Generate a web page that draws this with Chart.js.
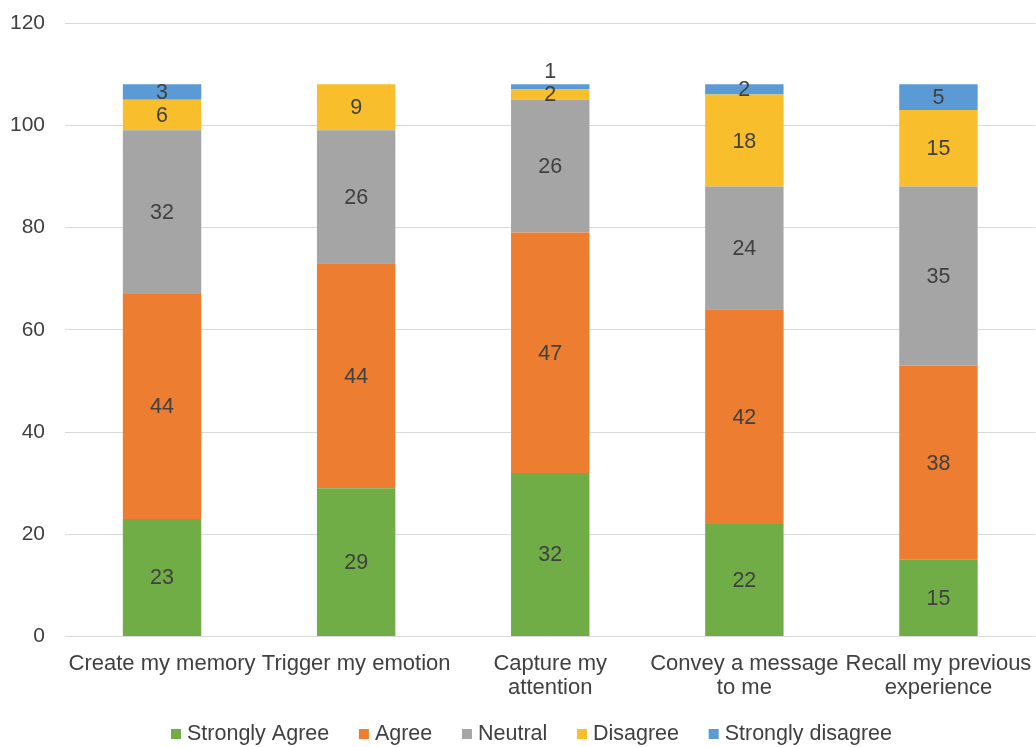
<!DOCTYPE html>
<html>
<head>
<meta charset="utf-8">
<script src="https://cdn.jsdelivr.net/npm/chart.js@4/dist/chart.umd.min.js"></script>
<style>
  html, body { margin: 0; padding: 0; background: #fff; }
  #wrap { width: 1036px; height: 747px; position: relative; }
</style>
</head>
<body>
<div id="wrap"><canvas id="c"></canvas></div>
<script>
// Survey statements (x categories), each line of a label as one entry
const categories = [
  ['Create my memory'],
  ['Trigger my emotion'],
  ['Capture my', 'attention'],
  ['Convey a message', 'to me'],
  ['Recall my previous', 'experience']
];

// Response counts per statement
const stronglyAgree    = [23, 29, 32, 22, 15];
const agree            = [44, 44, 47, 42, 38];
const neutral          = [32, 26, 26, 24, 35];
const disagree         = [6, 9, 2, 18, 15];
const stronglyDisagree = [3, 0, 1, 2, 5];

const seriesNames = ['Strongly Agree', 'Agree', 'Neutral', 'Disagree', 'Strongly disagree'];
const seriesColors = ['#70AD47', '#ED7D31', '#A5A5A5', '#F9BE2C', '#5B9BD5'];

const yTicks = [0, 20, 40, 60, 80, 100, 120];

const FONT = '"Liberation Sans", Arial, sans-serif';
const TEXT = '#404040';

// Writes each segment's value in its middle; a segment too thin for its
// label gets the label just above the top of the stack.
const segmentLabels = {
  id: 'segmentLabels',
  afterDatasetsDraw(chart) {
    const ctx = chart.ctx;
    ctx.save();
    ctx.font = '21.5px ' + FONT;
    ctx.fillStyle = TEXT;
    ctx.textAlign = 'center';
    ctx.textBaseline = 'middle';
    chart.data.datasets.forEach((ds, di) => {
      const meta = chart.getDatasetMeta(di);
      meta.data.forEach((bar, i) => {
        const v = ds.data[i];
        if (!v) return;
        const top = Math.min(bar.y, bar.base);
        const h = Math.abs(bar.base - bar.y);
        let y = top + h / 2;
        if (h < 8) y = top - 13;
        ctx.fillText(String(v), bar.x, y + 1);
      });
    });
    ctx.restore();
  }
};

// Legend row under the axis: small square swatch, then the series name.
const bottomLegend = {
  id: 'bottomLegend',
  afterDraw(chart) {
    const ctx = chart.ctx;
    ctx.save();
    ctx.font = '21.5px ' + FONT;
    ctx.textBaseline = 'middle';
    ctx.textAlign = 'left';
    const sw = 10, swGap = 16;
    const items = chart.data.datasets.map(ds => ({
      text: ds.label, color: ds.backgroundColor,
      w: swGap + ctx.measureText(ds.label).width
    }));
    const startX = 171, endX = 892;
    const used = items.reduce((s, it) => s + it.w, 0);
    const gap = (endX - startX - used) / (items.length - 1);
    const cy = 734;
    let x = startX;
    items.forEach(it => {
      ctx.fillStyle = it.color;
      ctx.fillRect(x, cy - sw / 2, sw, sw);
      ctx.fillStyle = TEXT;
      ctx.fillText(it.text, x + swGap, cy);
      x += it.w + gap;
    });
    ctx.restore();
  }
};

const data = {
  labels: categories,
  datasets: [stronglyAgree, agree, neutral, disagree, stronglyDisagree].map((vals, k) => ({
    label: seriesNames[k],
    data: vals,
    backgroundColor: seriesColors[k],
    borderWidth: 0,
    categoryPercentage: 1,
    barPercentage: 0.404
  }))
};

new Chart(document.getElementById('c'), {
  type: 'bar',
  data,
  plugins: [segmentLabels, bottomLegend],
  options: {
    responsive: true,
    maintainAspectRatio: false,
    animation: false,
    layout: { padding: { top: 23, right: 0.5, bottom: 0, left: 0 } },
    plugins: {
      tooltip: { enabled: false },
      legend: { display: false }
    },
    scales: {
      x: {
        stacked: true,
        afterFit(scale) {
          scale.height = 110.5;
          scale.paddingLeft = 0;
          scale.paddingRight = 0;
        },
        grid: { display: false },
        border: { display: false },
        ticks: {
          color: TEXT,
          font: { family: FONT, size: 22, lineHeight: 1.1 },
          maxRotation: 0,
          minRotation: 0,
          autoSkip: false,
          padding: 7
        }
      },
      y: {
        stacked: true,
        min: 0,
        max: 120,
        afterFit(scale) {
          scale.width = 65;
          scale.paddingTop = 0;
          scale.paddingBottom = 0;
        },
        afterBuildTicks(scale) { scale.ticks = yTicks.map(v => ({ value: v })); },
        grid: { color: '#D9D9D9', lineWidth: 1, drawTicks: false },
        border: { display: false },
        ticks: {
          color: TEXT,
          font: { family: FONT, size: 21 },
          padding: 20
        }
      }
    }
  }
});
</script>
</body>
</html>
